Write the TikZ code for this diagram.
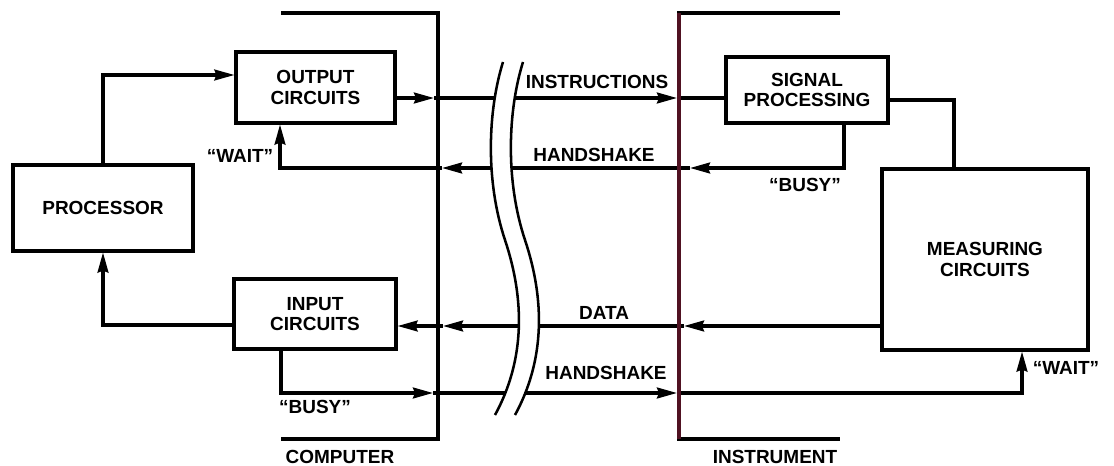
\documentclass[tikz,border=0pt]{standalone}
\usepackage{fontspec}
\setmainfont{Liberation Sans}
\usepackage{xcolor}
\usepackage{tikz}
\usetikzlibrary{positioning, arrows.meta, calc}

\definecolor{instr}{RGB}{80,18,34}

\begin{document}
\begin{tikzpicture}[x=0.025cm, y=-0.025cm, >={Stealth[length=0.5cm, width=0.27cm, inset=0.05cm]},
    font=\fontsize{13.5}{14.5}\selectfont\bfseries,
    blk/.style={draw, line width=2.2pt, align=center, inner sep=2pt},
    wire/.style={line width=2.2pt},
    brk/.style={line width=1.8pt},
    lbl/.style={inner sep=1pt}]
  \useasboundingbox (0,0) rectangle (1114,466);

  % blocks
  \node[blk, minimum width=4.5cm, minimum height=2.15cm] (proc) at (103,208) {PROCESSOR};
  \node[blk, minimum width=3.975cm, minimum height=1.775cm] (out) at (315.5,87.5) {OUTPUT\\CIRCUITS};
  \node[blk, minimum width=4.05cm, minimum height=1.75cm] (in) at (315,314) {INPUT\\CIRCUITS};
  \node[blk, minimum width=4.05cm, minimum height=1.65cm] (sig) at (807,90) {SIGNAL\\PROCESSING};
  \node[blk, minimum width=5.15cm, minimum height=4.525cm] (meas) at (985,259.5) {MEASURING\\CIRCUITS};

  % bends
  \coordinate (pr) at (103,75);
  \coordinate (ir) at (103,325);
  \coordinate (sr) at (954,100);

  % instructions
  \coordinate (i1) at (434,98);
  \coordinate (i2) at (677,98);
  \draw[wire,->] (out.east |- i1) -- (i1);
  \draw[wire,->] (i1) -- (i2);
  \draw[wire] (i2) -- (sig.west |- i2);

  % handshake to computer
  \coordinate (h0) at (844,168);
  \coordinate (h1) at (690,168);
  \coordinate (h2) at (442,168);
  \coordinate (h3) at (280,168);
  \draw[wire,->] (sig.south -| h0) -- (h0) -- (h1);
  \draw[wire,->] (h1) -- (h2);
  \draw[wire,->] (h2) -- (h3) -- (out.south -| h3);

  % data
  \coordinate (d1) at (684,326);
  \coordinate (d2) at (443,326);
  \draw[wire,->] (meas.west |- d1) -- (d1);
  \draw[wire,->] (d1) -- (d2);
  \draw[wire,->] (d2) -- (in.east |- d2);

  % handshake to instrument
  \coordinate (b0) at (281,393);
  \coordinate (b1) at (433,393);
  \coordinate (b2) at (677,393);
  \coordinate (b3) at (1022,393);
  \draw[wire,->] (in.south -| b0) -- (b0) -- (b1);
  \draw[wire,->] (b1) -- (b2);
  \draw[wire,->] (b2) -- (b3) -- (meas.south -| b3);

  % processor and measuring links
  \draw[wire,->] (proc.north) -- (pr) -- (out.west |- pr);
  \draw[wire,->] (in.west |- ir) -- (ir) -- (proc.south);
  \draw[wire] (sig.east |- sr) -- (sr) -- (meas.north -| sr);

  % break in the cable
  \fill[white] (503,62) .. controls (488,110) and (485,180) .. (505,240)
    .. controls (525,300) and (525,360) .. (495,415) -- (515,415)
    .. controls (545,360) and (545,300) .. (525,240)
    .. controls (505,180) and (508,110) .. (523,62) -- cycle;
  \draw[brk] (503,62) .. controls (488,110) and (485,180) .. (505,240)
    .. controls (525,300) and (525,360) .. (495,415);
  \draw[brk] (523,62) .. controls (508,110) and (505,180) .. (525,240)
    .. controls (545,300) and (545,360) .. (515,415);

  % computer and instrument sides
  \draw[wire] (281,13) -- (438,13) -- (438,439) -- (281,439);
  \draw[wire] (840,13) -- (679,13) -- (679,439) -- (840,439);
  \draw[wire, draw=instr] (679,13) -- (679,439);

  % labels
  \node[lbl] (lins) at (597,82) {INSTRUCTIONS};
  \node[lbl] (lhsa) at (594,155) {HANDSHAKE};
  \node[lbl] (ldat) at (604,313) {DATA};
  \node[lbl] (lhsb) at (606,373) {HANDSHAKE};
  \node[lbl] (lwta) at (240,156) {``WAIT''};
  \node[lbl] (lbsa) at (805,185) {``BUSY''};
  \node[lbl] (lbsb) at (315,407) {``BUSY''};
  \node[lbl] (lwtb) at (1066,368) {``WAIT''};
  \node[lbl] (lcom) at (340,457) {COMPUTER};
  \node[lbl] (lsys) at (775,457) {INSTRUMENT};
\end{tikzpicture}
\end{document}
